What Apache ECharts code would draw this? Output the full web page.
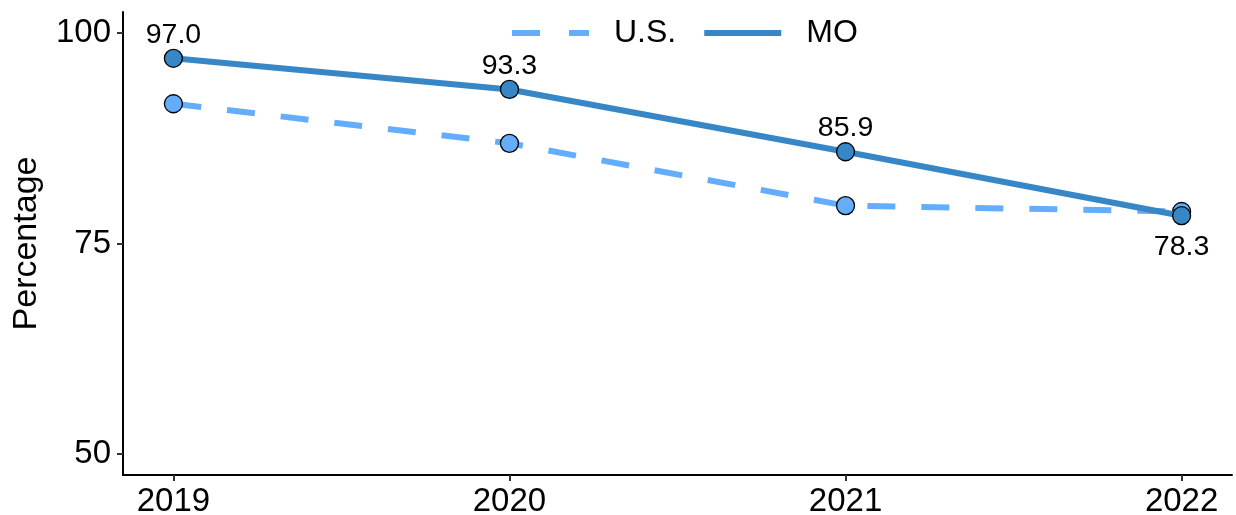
<!DOCTYPE html>
<html><head><meta charset="utf-8">
<script src="https://cdn.jsdelivr.net/npm/echarts@6/dist/echarts.min.js"></script>
<style>html,body{margin:0;padding:0;background:#fff}#c{width:1236px;height:515px}</style>
</head><body><div id="c"></div>
<script>
const years = [2019, 2020, 2021, 2022];
const usValues = [91.6, 86.9, 79.5, 78.8];
const moValues = [97.0, 93.3, 85.9, 78.3];
const yTicks = [50, 75, 100];
const seriesNames = ['U.S.', 'MO'];

const usColor = '#63adfb';
const moColor = '#3787c6';
const font = 'Liberation Sans';

const chart = echarts.init(document.getElementById('c'));
chart.setOption({
  animation: false,
  backgroundColor: '#fff',
  textStyle: { fontFamily: font },
  grid: { left: 123, right: 4, top: 12, bottom: 40, containLabel: false, outerBoundsMode: 'none' },
  legend: {
    top: 12, left: 504,
    itemWidth: 77, itemHeight: 36, itemGap: 25,
    textStyle: { fontSize: 32, color: '#000', fontFamily: font, padding: [0, 0, 0, 20] },
    itemStyle: { color: 'transparent', borderWidth: 0 },
    data: [
      { name: seriesNames[0], lineStyle: { width: 6, type: [28, 29], color: usColor } },
      { name: seriesNames[1], lineStyle: { width: 6, color: moColor } }
    ]
  },
  xAxis: {
    type: 'value', min: 2018.85, max: 2022.15,
    splitLine: { show: false },
    axisLine: { show: true, lineStyle: { color: '#000', width: 2 } },
    axisTick: { show: true, length: 6, lineStyle: { color: '#333', width: 2 }, customValues: years },
    axisLabel: { fontSize: 33, color: '#000', margin: 10, customValues: years, formatter: v => String(v) }
  },
  yAxis: {
    type: 'value', min: 47.5, max: 102.5,
    name: 'Percentage', nameLocation: 'middle', nameGap: 79, nameRotate: 90,
    nameTextStyle: { fontSize: 34, color: '#000', fontFamily: font },
    splitLine: { show: false },
    axisLine: { show: true, lineStyle: { color: '#000', width: 2 } },
    axisTick: { show: true, length: 6, lineStyle: { color: '#333', width: 2 }, customValues: yTicks },
    axisLabel: { fontSize: 33, color: '#000', margin: 12, customValues: yTicks }
  },
  series: [
    {
      name: seriesNames[0], type: 'line',
      data: years.map((y, i) => [y, usValues[i]]),
      symbol: 'circle', symbolSize: 18,
      lineStyle: { color: usColor, width: 6, type: [28, 26] },
      itemStyle: { color: usColor, borderColor: '#000', borderWidth: 1.3 },
      z: 2
    },
    {
      name: seriesNames[1], type: 'line',
      data: years.map((y, i) => {
        const d = { value: [y, moValues[i]] };
        if (i === years.length - 1) d.label = { position: 'bottom', distance: 7 };
        return d;
      }),
      symbol: 'circle', symbolSize: 18,
      lineStyle: { color: moColor, width: 6 },
      itemStyle: { color: moColor, borderColor: '#000', borderWidth: 1.3 },
      label: {
        show: true, position: 'top', distance: -1, fontSize: 28.5, color: '#000', fontFamily: font,
        formatter: p => p.value[1].toFixed(1)
      },
      z: 3
    }
  ]
});
</script></body></html>
